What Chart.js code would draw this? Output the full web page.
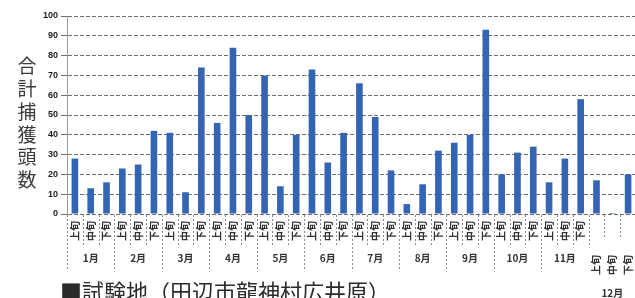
<!DOCTYPE html>
<html>
<head>
<meta charset="utf-8">
<script src="https://cdn.jsdelivr.net/npm/chart.js@4/dist/chart.umd.min.js"></script>
<style>
  html, body { margin: 0; padding: 0; background: #fff; overflow: hidden; }
  #wrap { width: 640px; height: 298px; }
</style>
</head>
<body>
<div id="wrap"><canvas id="trapChart" width="640" height="298"></canvas></div>
<script>
const months = ['1月', '2月', '3月', '4月', '5月', '6月', '7月', '8月', '9月', '10月', '11月', '12月'];
const thirds = ['上旬', '中旬', '下旬'];
const counts = [
    28, 13, 16,
    23, 25, 42,
    41, 11, 74,
    46, 84, 50,
    70, 14, 40,
    73, 26, 41,
    66, 49, 22,
    5, 15, 32,
    36, 40, 93,
    20, 31, 34,
    16, 28, 58,
    17, 0.5, 20
];
const yTicks = [0, 10, 20, 30, 40, 50, 60, 70, 80, 90, 100];
const yTitle = '合計捕獲頭数';
const caption = '■試験地（田辺市龍神村広井原）';

const labels = months.flatMap(m => thirds.map(t => m + t));
const jpFont = "'Noto Sans CJK JP', sans-serif";

// draws the two-row category table under the bars, the vertical title and the caption
const tablePlugin = {
    id: 'tablePlugin',
    afterDraw(chart) {
        const ctx = chart.ctx;
        const x = chart.scales.x;
        const area = chart.chartArea;
        const top = area.bottom + 1;
        const step = x.getPixelForValue(1) - x.getPixelForValue(0);
        const lastMonth = months.length - 1;

        ctx.save();
        ctx.strokeStyle = '#8a8a8a';
        ctx.lineWidth = 1;
        ctx.setLineDash([2, 2]);

        for (let i = 0; i < labels.length; i++) {
            const bx = Math.round(x.getPixelForValue(0) - step / 2 + i * step) + 0.5;
            let bottom = top + 30;
            if (i % 3 === 0 && i < lastMonth * 3) bottom = top + 54;
            if (i > lastMonth * 3) bottom = top + 24;
            ctx.beginPath();
            ctx.moveTo(bx, top);
            ctx.lineTo(bx, bottom);
            ctx.stroke();
        }
        ctx.setLineDash([]);

        ctx.fillStyle = '#333';
        ctx.font = 'bold 10px ' + jpFont;
        ctx.textAlign = 'center';
        ctx.textBaseline = 'middle';
        labels.forEach((lab, i) => {
            const cx = x.getPixelForValue(i);
            const m = Math.floor(i / 3);
            const cy = m === lastMonth ? top + 50 : top + 16;
            ctx.save();
            ctx.translate(cx, cy);
            ctx.rotate(-Math.PI / 2);
            ctx.fillText(thirds[i % 3], 0, 0);
            ctx.restore();
        });

        ctx.font = 'bold 10px ' + jpFont;
        months.forEach((m, mi) => {
            const cx = x.getPixelForValue(mi * 3 + 1);
            const cy = mi === lastMonth ? top + 78 : top + 43;
            ctx.fillText(m, cx, cy);
        });

        // vertical y-axis title
        ctx.fillStyle = '#3a3a3a';
        ctx.font = '19px ' + jpFont;
        [...yTitle].forEach((ch, k) => {
            ctx.fillText(ch, 27, 66 + k * 22.8);
        });

        // caption, cut by the bottom edge
        ctx.fillStyle = '#2a2a2a';
        ctx.font = '22px ' + jpFont;
        ctx.textAlign = 'left';
        ctx.textBaseline = 'top';
        ctx.fillText(caption, 60, 281);
        ctx.restore();
    }
};

const ctx = document.getElementById('trapChart').getContext('2d');
const trapChart = new Chart(ctx, {
    type: 'bar',
    data: {
        labels: labels,
        datasets: [{
            label: '合計捕獲頭数',
            data: counts,
            backgroundColor: '#3464b4',
            borderWidth: 0,
            barPercentage: 0.42,
            categoryPercentage: 1.0
        }]
    },
    options: {
        responsive: false,
        animation: false,
        layout: {
            padding: {
                left: 0,
                right: 4,
                top: 16,
                bottom: 0
            }
        },
        plugins: {
            legend: { display: false },
            tooltip: { enabled: false }
        },
        scales: {
            x: {
                ticks: { display: false },
                grid: { display: false },
                border: { display: false },
                afterFit: function(scale) {
                    scale.height = 84;
                }
            },
            y: {
                min: 0,
                max: 100,
                afterBuildTicks: function(scale) {
                    scale.ticks = yTicks.map(v => ({ value: v }));
                },
                ticks: {
                    padding: 3,
                    color: '#222',
                    font: {
                        family: "'Liberation Sans', Arial, sans-serif",
                        size: 9,
                        weight: 'bold'
                    }
                },
                grid: {
                    color: '#6e6e6e',
                    lineWidth: 1,
                    tickLength: 6
                },
                border: {
                    color: '#9a9a9a',
                    dash: [4, 2]
                },
                afterFit: function(scale) {
                    scale.width = 67;
                }
            }
        }
    },
    plugins: [tablePlugin]
});
</script>
</body>
</html>
